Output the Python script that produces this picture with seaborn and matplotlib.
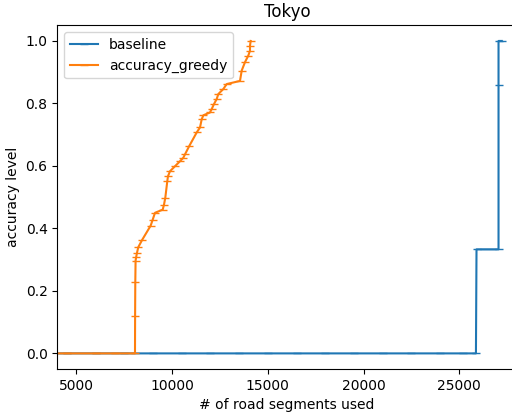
import matplotlib
matplotlib.use("Agg")
import matplotlib.pyplot as plt
import seaborn as sns
import pandas as pd

# Baseline: accuracy vs number of road segments used
baseline_x = [0, 1500, 3000, 4500, 6000, 7500, 9000, 10500, 12000, 13500,
              15000, 16500, 18000, 19500, 21000, 22500, 24000, 25200, 25870,
              25900, 26300, 26700, 27050, 27050, 27050, 27220]
baseline_y = [0.0, 0.0, 0.0, 0.0, 0.0, 0.0, 0.0, 0.0, 0.0, 0.0,
              0.0, 0.0, 0.0, 0.0, 0.0, 0.0, 0.0, 0.0, 0.0,
              0.333, 0.333, 0.333, 0.333, 0.86, 1.0, 1.0]

# Greedy selection
greedy_x = [0, 1500, 3000, 4500, 6000, 7000, 8059, 8065, 8075, 8090, 8120,
            8160, 8231, 8440, 8879, 8984, 9104, 9506, 9574, 9642, 9746,
            9783, 9887, 10149, 10410, 10582, 10671, 10896, 11282, 11455,
            11543, 11627, 11977, 12066, 12186, 12327, 12411, 12672, 12850,
            13544, 13633, 13805, 13978, 14067, 14067, 14103]
greedy_y = [0.0, 0.0, 0.0, 0.0, 0.0, 0.0, 0.0, 0.121, 0.228, 0.297, 0.308,
            0.321, 0.34, 0.364, 0.409, 0.428, 0.45, 0.46, 0.476, 0.498, 0.551,
            0.567, 0.583, 0.599, 0.615, 0.626, 0.637, 0.664, 0.707, 0.723,
            0.749, 0.762, 0.771, 0.782, 0.798, 0.814, 0.83, 0.846, 0.862,
            0.872, 0.905, 0.932, 0.953, 0.969, 0.985, 1.0]


def main():
    df_base = pd.DataFrame({"segments": baseline_x, "accuracy": baseline_y})
    df_greedy = pd.DataFrame({"segments": greedy_x, "accuracy": greedy_y})

    fig = plt.figure(figsize=(5.12, 4.13), dpi=100)
    ax = fig.add_axes([0.1119, 0.1065, 0.8973, 0.8322])

    # markers are drawn in the line colour (seaborn defaults to white edges)
    sns.lineplot(data=df_base, x="segments", y="accuracy", ax=ax,
                 estimator=None, sort=False, marker="_", color="C0",
                 markeredgecolor="C0", markeredgewidth=1.0,
                 label="baseline")
    sns.lineplot(data=df_greedy, x="segments", y="accuracy", ax=ax,
                 estimator=None, sort=False, marker="_", color="C1",
                 markeredgecolor="C1", markeredgewidth=1.0,
                 label="accuracy_greedy")

    ax.set_xlim(4000, 28000)
    ax.set_ylim(-0.05, 1.05)
    ax.set_title("Tokyo")
    ax.set_xlabel("# of road segments used")
    ax.set_ylabel("accuracy level")
    ax.legend(loc="upper left")

    fig.savefig("out.png", dpi=100)
    plt.close(fig)


if __name__ == "__main__":
    main()
